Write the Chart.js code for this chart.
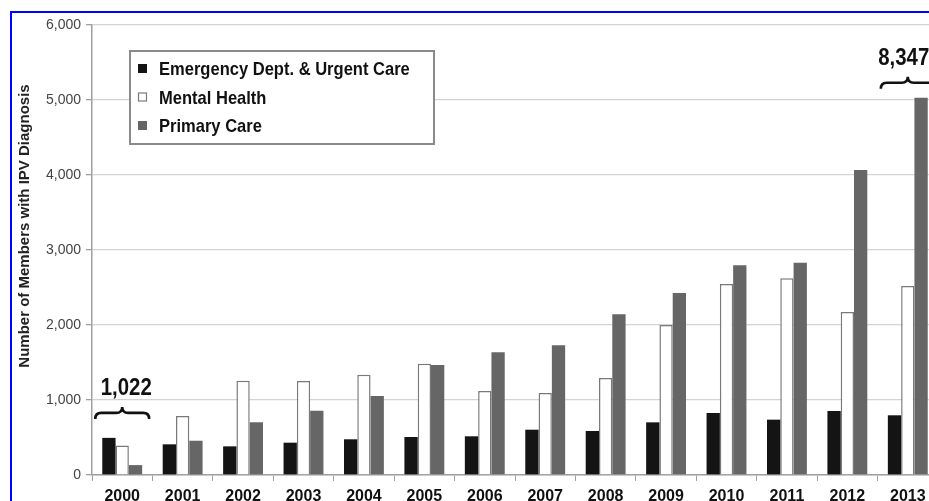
<!DOCTYPE html>
<html>
<head>
<meta charset="utf-8">
<script src="https://cdn.jsdelivr.net/npm/chart.js@4/dist/chart.umd.min.js"></script>
<style>
  html, body { margin: 0; padding: 0; background: #fff; overflow: hidden; width: 929px; height: 501px; }
  #wrap { position: relative; width: 929px; height: 501px; overflow: hidden; }
  #c { position: absolute; left: 0; top: 0; }
  #frame { position: absolute; left: 10px; top: 11px; width: 1000px; height: 600px; border: 2px solid #0000ff; pointer-events: none; }
</style>
</head>
<body>
<div id="wrap">
  <canvas id="c" width="945" height="501"></canvas>
  <div id="frame"></div>
</div>
<script>
const years = ['2000','2001','2002','2003','2004','2005','2006','2007','2008','2009','2010','2011','2012','2013'];
const emergencyUrgent = [495, 409, 382, 431, 476, 507, 516, 604, 587, 702, 827, 738, 853, 796];
const mentalHealth   = [395, 787, 1258, 1252, 1338, 1484, 1120, 1093, 1293, 2000, 2547, 2622, 2173, 2520];
const primaryCare    = [132, 457, 703, 857, 1053, 1467, 1636, 1729, 2145, 2427, 2796, 2831, 4067, 5031];
const seriesNames = ['Emergency Dept. & Urgent Care', 'Mental Health', 'Primary Care'];
const yTicks = [0, 1000, 2000, 3000, 4000, 5000, 6000];
const annotatedYears = ['2000', '2013'];
const yTitle = 'Number of Members with IPV Diagnosis';

const regular = '"Liberation Sans", Arial, sans-serif';

function fmt(v) { return v.toLocaleString('en-US'); }

function narrowText(ctx, text, x, y, sx) {
  ctx.save();
  ctx.translate(x, y);
  ctx.scale(sx, 1);
  ctx.fillText(text, 0, 0);
  ctx.restore();
}

const boxLegend = {
  id: 'boxLegend',
  afterDraw(chart, args, o) {
    const ctx = chart.ctx, a = chart.chartArea;
    const x = a.left + o.dx, y = a.top + o.dy;
    ctx.save();
    ctx.fillStyle = '#fff';
    ctx.fillRect(x, y, o.w, o.h);
    ctx.strokeStyle = '#8a8a8a';
    ctx.lineWidth = 2;
    ctx.strokeRect(x, y, o.w, o.h);
    ctx.font = 'bold 19px ' + regular;
    ctx.textBaseline = 'alphabetic';
    chart.data.datasets.forEach((ds, i) => {
      const by = y + o.firstBase + i * o.rowGap;
      const s = o.marker;
      ctx.fillStyle = ds.backgroundColor;
      ctx.fillRect(x + o.markerX, by - s - 2, s, s);
      if (ds.borderWidth) {
        ctx.strokeStyle = ds.borderColor;
        ctx.lineWidth = 1.2;
        ctx.strokeRect(x + o.markerX + 0.5, by - s - 1.5, s - 1, s - 1);
      }
      ctx.fillStyle = '#111';
      narrowText(ctx, ds.label, x + o.textX, by, 0.87);
    });
    ctx.restore();
  }
};

const yTitlePlugin = {
  id: 'yTitle',
  afterDraw(chart, args, o) {
    const ctx = chart.ctx;
    ctx.save();
    ctx.translate(o.x, o.y);
    ctx.rotate(-Math.PI / 2);
    ctx.font = 'bold 15px ' + regular;
    ctx.fillStyle = '#222';
    ctx.textAlign = 'center';
    ctx.textBaseline = 'middle';
    ctx.fillText(yTitle, 0, 0);
    ctx.restore();
  }
};

function drawBrace(ctx, x1, x2, y, h) {
  const xm = (x1 + x2) / 2, r = h;
  ctx.beginPath();
  ctx.moveTo(x1, y + h);
  ctx.quadraticCurveTo(x1, y, x1 + r, y);
  ctx.lineTo(xm - r, y);
  ctx.quadraticCurveTo(xm, y, xm, y - h);
  ctx.quadraticCurveTo(xm, y, xm + r, y);
  ctx.lineTo(x2 - r, y);
  ctx.quadraticCurveTo(x2, y, x2, y + h);
  ctx.stroke();
}

const totalsPlugin = {
  id: 'totals',
  afterDraw(chart, args, o) {
    const ctx = chart.ctx;
    ctx.save();
    ctx.strokeStyle = '#111';
    ctx.lineWidth = 2.6;
    ctx.fillStyle = '#111';
    ctx.font = 'bold 24px ' + regular;
    ctx.textAlign = 'center';
    ctx.textBaseline = 'alphabetic';
    annotatedYears.forEach((yr, k) => {
      const idx = years.indexOf(yr);
      let left = Infinity, right = -Infinity, top = Infinity, total = 0;
      chart.data.datasets.forEach((ds, di) => {
        const el = chart.getDatasetMeta(di).data[idx];
        left = Math.min(left, el.x - el.width / 2);
        right = Math.max(right, el.x + el.width / 2);
        top = Math.min(top, el.y);
        total += ds.data[idx];
      });
      const yLine = top - o.gaps[k];
      drawBrace(ctx, left - o.extend, right + o.extend, yLine, 6);
      narrowText(ctx, fmt(total), (left + right) / 2 + o.textShift[k], yLine - 18, 0.85);
    });
    ctx.restore();
  }
};

new Chart(document.getElementById('c'), {
  type: 'bar',
  data: {
    labels: years,
    datasets: [
      { label: seriesNames[0], data: emergencyUrgent, backgroundColor: '#141414', borderWidth: 0 },
      { label: seriesNames[1], data: mentalHealth, backgroundColor: '#ffffff', borderColor: '#7a7a7a', borderWidth: 1.5 },
      { label: seriesNames[2], data: primaryCare, backgroundColor: '#666666', borderWidth: 0 }
    ]
  },
  options: {
    responsive: false,
    animation: false,
    devicePixelRatio: 1,
    layout: { padding: { left: 0, top: 25, right: 7, bottom: 0 } },
    datasets: { bar: { categoryPercentage: 0.66, barPercentage: 1.0 } },
    plugins: {
      legend: { display: false },
      tooltip: { enabled: false },
      boxLegend: { dx: 38, dy: 26, w: 304, h: 93, marker: 9, markerX: 8, textX: 29, firstBase: 24, rowGap: 28.5 },
      totals: { gaps: [25, 15], extend: 7, textShift: [4, -4] },
      yTitle: { x: 25, y: 226 }
    },
    scales: {
      x: {
        grid: { display: true, drawOnChartArea: false, offset: true, tickLength: 6, tickColor: '#a0a0a0' },
        border: { color: '#a0a0a0', width: 1.5 },
        ticks: { color: '#111', font: { family: regular, size: 16, weight: 'bold' }, padding: 6, maxRotation: 0, autoSkip: false },
        afterFit(s) { s.height = 26; }
      },
      y: {
        min: yTicks[0],
        max: yTicks[yTicks.length - 1],
        afterBuildTicks(s) { s.ticks = yTicks.map(v => ({ value: v })); },
        grid: { color: '#d4d4d4', lineWidth: 1.3, tickLength: 6, tickColor: '#a0a0a0' },
        border: { color: '#a0a0a0', width: 1.5 },
        ticks: { color: '#444', font: { family: regular, size: 14 }, padding: 5, callback: v => fmt(v) },
        afterFit(s) { s.width = 92; }
      }
    }
  },
  plugins: [boxLegend, totalsPlugin, yTitlePlugin]
});
</script>
</body>
</html>
